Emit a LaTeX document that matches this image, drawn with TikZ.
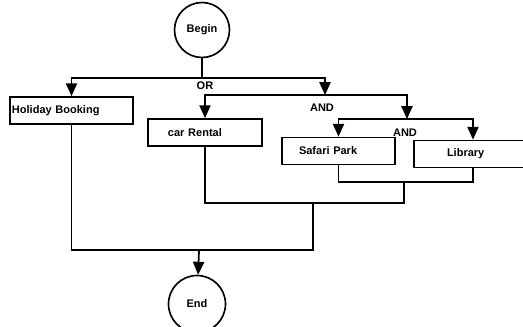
\documentclass[tikz,border=0pt]{standalone}
\usepackage{fontspec}
\setmainfont{Liberation Sans}
\usetikzlibrary{arrows.meta,calc}

\begin{document}
\begin{tikzpicture}[
  x=0.03cm,y=-0.03cm,
  every node/.style={font=\fontsize{9.4}{10}\selectfont\bfseries},
  act/.style={draw,line width=1.4pt,minimum height=0.81cm,inner ysep=0pt,align=left},
  term/.style={draw,circle,line width=1.4pt,inner sep=0pt},
  ln/.style={line width=1.5pt},
  ar/.style={line width=1.5pt,-{Triangle[length=11pt,width=9.5pt]}}
]
\useasboundingbox (0,0) rectangle (523,326);
\clip (0,0) rectangle (523,326);
\node[term,minimum size=1.65cm] (begin) at (202,30) {Begin};
\node[act,inner xsep=0.06cm,text width=3.57cm] (holiday) at (71.5,110.5) {Holiday Booking};
\node[act,inner xsep=0.6cm,text width=2.22cm] (car) at (205,132.5) {car Rental};
\node[act,inner xsep=0.51cm,text width=2.37cm] (safari) at (338.5,151) {Safari Park};
\node[act,inner xsep=0.99cm,text width=1.56cm] (library) at (473,154) {Library};
\node[term,minimum size=1.71cm] (end) at (197,304) {End};
% split and merge points
\coordinate (j1) at (202,78);
\coordinate (j2) at (325,95);
\coordinate (j3) at (407,119);
\coordinate (m3) at (404,182);
\coordinate (m2) at (313,203);
\coordinate (m1) at (199,250);
\node (or) at (205,86) {OR};
\node (and1) at (322,108) {AND};
\node (and2) at (405,133) {AND};
\draw[ln] (begin) -- (j1);
\draw[ar] (j1) -| (holiday.north);
\draw[ar] (j1) -| (j2);
\draw[ar] (j2) -| (car.north);
\draw[ar] (j2) -| (j3);
\draw[ar] (j3) -| (safari.north);
\draw[ar] (j3) -| (library.north);
\draw[ln] (safari.south) |- (m3) -| (library.south);
\draw[ln] (car.south) |- (m2) -| (m3);
\draw[ln] (holiday.south) |- (m1) -| (m2);
\draw[ar] (m1) -- (end);
\end{tikzpicture}
\end{document}
